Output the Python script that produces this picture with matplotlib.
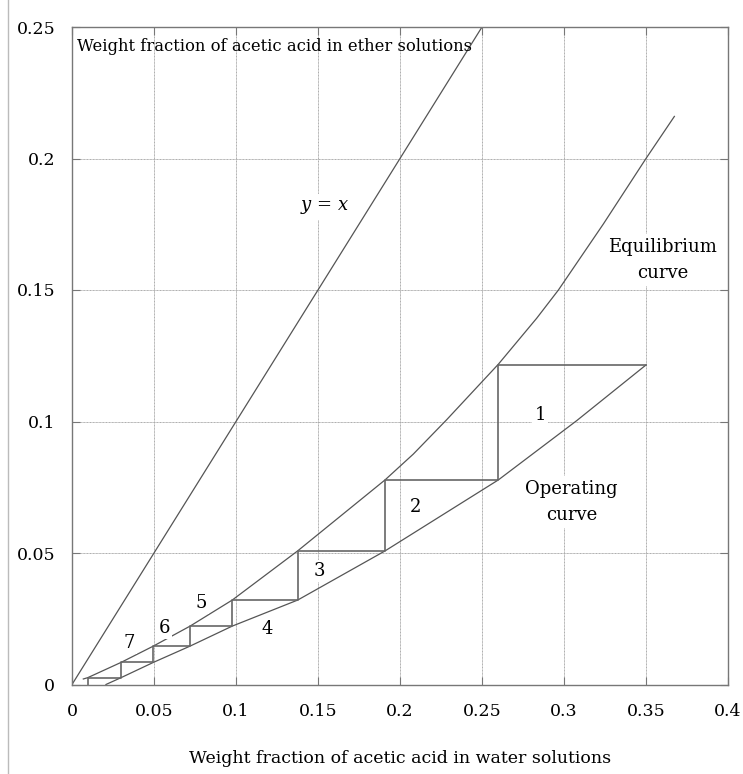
import matplotlib
matplotlib.use("Agg")
import matplotlib.pyplot as plt
from matplotlib.lines import Line2D

plt.rcParams['font.family'] = ['DejaVu Serif']
plt.rcParams['mathtext.fontset'] = 'dejavuserif'

# Equilibrium curve (weight fraction in water vs. in ether)
eq_x = [0.0069, 0.0096, 0.0299, 0.0496, 0.072, 0.0977, 0.1167, 0.1376, 0.1909,
        0.2081, 0.2285, 0.26, 0.2834, 0.2966, 0.324, 0.35, 0.3673]
eq_y = [0.0021, 0.0026, 0.0084, 0.0146, 0.0222, 0.0321, 0.041, 0.0508, 0.0778,
        0.0876, 0.1007, 0.1218, 0.1393, 0.15, 0.1751, 0.2, 0.216]

# Operating curve
op_x = [0.0207, 0.0299, 0.0496, 0.072, 0.0977, 0.1376, 0.1909, 0.26, 0.3077, 0.35]
op_y = [0.0, 0.0026, 0.0084, 0.0146, 0.0222, 0.0321, 0.0508, 0.0778, 0.1003, 0.1215]

# Stage corners of the staircase
stage_x = [0.35, 0.26, 0.1909, 0.1376, 0.0977, 0.072, 0.0496, 0.0299, 0.0096]
stage_y = [0.1215, 0.0778, 0.0508, 0.0321, 0.0222, 0.0146, 0.0084, 0.0026, 0.0]

# Stage numbers and their positions
stage_labels = ['1', '2', '3', '4', '5', '6', '7']
stage_lx = [0.2854, 0.2096, 0.1508, 0.1193, 0.0785, 0.0561, 0.0348]
stage_ly = [0.1025, 0.0676, 0.0432, 0.0211, 0.0309, 0.0214, 0.0159]

diag = [0.0, 0.25]

xticks = [0, 0.05, 0.1, 0.15, 0.2, 0.25, 0.3, 0.35, 0.4]
yticks = [0, 0.05, 0.1, 0.15, 0.2, 0.25]
xtick_labels = ['0', '0.05', '0.1', '0.15', '0.2', '0.25', '0.3', '0.35', '0.4']
ytick_labels = ['0', '0.05', '0.1', '0.15', '0.2', '0.25']

fig = plt.figure(figsize=(7.43, 7.74), dpi=100)
ax = fig.add_axes([72 / 743, 1 - 684.5 / 774, 656 / 743, 657.5 / 774])

line_c = '#555555'
ax.plot(diag, diag, color=line_c, lw=0.9, zorder=2)
ax.plot(eq_x, eq_y, color=line_c, lw=0.9, zorder=2)
ax.plot(op_x, op_y, color=line_c, lw=0.9, zorder=2)
ax.plot(stage_x, stage_y, drawstyle='steps-post', color='#666666', lw=1.2, zorder=2)

ax.set_xlim(0, 0.4)
ax.set_ylim(0, 0.25)
ax.set_xticks(xticks)
ax.set_xticklabels(xtick_labels)
ax.set_yticks(yticks)
ax.set_yticklabels(ytick_labels)
ax.tick_params(direction='in', length=6, width=0.8, color='#777777',
               top=True, right=True, labelsize=12.5)
ax.tick_params(axis='x', pad=13)
ax.tick_params(axis='y', pad=12)
ax.grid(True, color='#aaaaaa', lw=0.7, linestyle=(0, (1, 0.5)), zorder=0)
ax.set_axisbelow(True)
for s in ax.spines.values():
    s.set_color('#777777')
    s.set_linewidth(1.0)

box = dict(facecolor='white', edgecolor='none', pad=1.5)
for lab, lx, ly in zip(stage_labels, stage_lx, stage_ly):
    ax.text(lx, ly, lab, ha='center', va='center', fontsize=13, bbox=box, zorder=3)

ax.text(0.1543, 0.1816, '$y$ = $x$', ha='center', va='center', fontsize=13,
        bbox=dict(facecolor='white', edgecolor='none', pad=3), zorder=3)
ax.text(0.36, 0.1614, 'Equilibrium\ncurve', ha='center', va='center', fontsize=13,
        linespacing=1.6, bbox=dict(facecolor='white', edgecolor='none', pad=3), zorder=3)
ax.text(0.3047, 0.0694, 'Operating\ncurve', ha='center', va='center', fontsize=13,
        linespacing=1.6, bbox=dict(facecolor='white', edgecolor='none', pad=3), zorder=3)
ax.text(0.003, 0.2425, 'Weight fraction of acetic acid in ether solutions',
        ha='left', va='center', fontsize=11.8, zorder=3)

ax.set_xlabel('Weight fraction of acetic acid in water solutions', fontsize=12.5, labelpad=22)

fig.add_artist(Line2D([8 / 743, 8 / 743], [0, 1], color='#bbbbbb', lw=1.0))

fig.savefig('out.png', dpi=100)
